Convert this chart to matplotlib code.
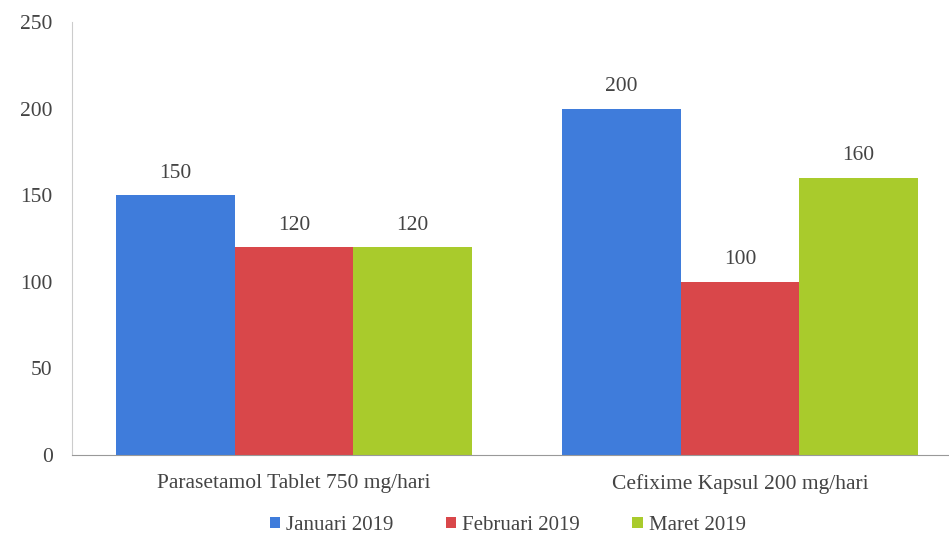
import numpy as np
import matplotlib.pyplot as plt

categories = ["Parasetamol Tablet 750 mg/hari", "Cefixime Kapsul 200 mg/hari"]
series_names = ["Januari 2019", "Februari 2019", "Maret 2019"]
januari = [150, 200]
februari = [120, 100]
maret = [120, 160]
colors = ["#3F7CDB", "#D9474A", "#A9CB2C"]

plt.rcParams['font.family'] = ['Liberation Serif', 'DejaVu Serif']

fig = plt.figure(figsize=(9.49, 5.46), dpi=100)
ax = fig.add_axes([0.0759, 0.1667, 0.9241, 0.793])

x = np.arange(len(categories))
w = 0.266
for i, (vals, name) in enumerate(zip([januari, februari, maret], series_names)):
    bars = ax.bar(x + (i - 1) * w, vals, width=w, color=colors[i], label=name)
    for b, v in zip(bars, vals):
        ax.annotate(str(v), (b.get_x() + b.get_width() / 2, v), xytext=(0, 9),
                    textcoords="offset points", ha="center", va="bottom",
                    fontsize=15.5, color="#444444")

ax.set_xlim(-0.498, 1.469)
ax.set_ylim(0, 250)
ax.set_yticks(range(0, 251, 50))
ax.set_xticks(x)
ax.set_xticklabels(categories)
ax.tick_params(axis="both", length=0, labelsize=15.5, labelcolor="#444444")
ax.tick_params(axis="y", pad=14)
ax.tick_params(axis="x", pad=14)

ax.spines['top'].set_visible(False)
ax.spines['right'].set_visible(False)
ax.spines['left'].set_color("#cccccc")
ax.spines['bottom'].set_color("#999999")

fig.legend(loc="lower center", bbox_to_anchor=(0.535, -0.014), ncol=3, frameon=False,
           fontsize=15, handlelength=0.5, handleheight=0.5, handletextpad=0.3,
           columnspacing=2.5, labelcolor="#444444")

fig.savefig("out.png", dpi=100)
